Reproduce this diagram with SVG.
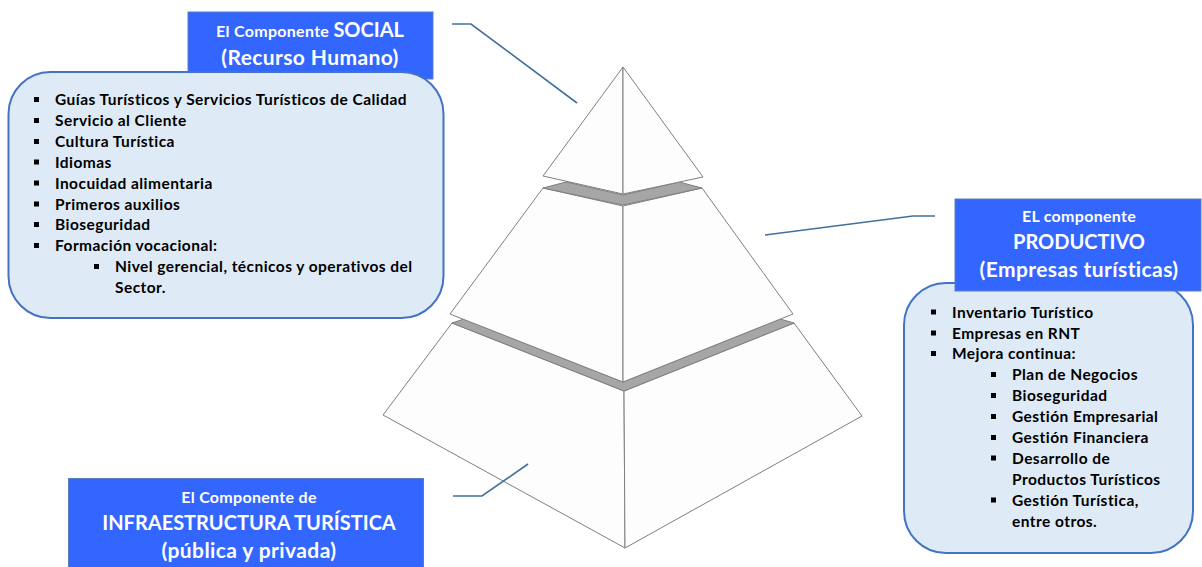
<svg xmlns="http://www.w3.org/2000/svg" width="1202" height="567" viewBox="0 0 1202 567">
<defs>
<style>
.hdr{fill:#3366FF;stroke:#5A7FC0;stroke-width:1}
.box{fill:#DEEBF7;stroke:#4472C4;stroke-width:2}
.ht{font-family:Lato,"Liberation Sans",sans-serif;font-weight:bold;fill:#FFFFFF;text-anchor:middle}
.s{font-size:16px;letter-spacing:0.3px}
.b{font-size:21px;letter-spacing:0.4px}
.c{font-size:20px}
.li{font-family:Lato,"Liberation Sans",sans-serif;font-weight:bold;font-size:15.5px;letter-spacing:0.45px;fill:#000000}
.face{fill:#FDFDFD;stroke:#7F7F7F;stroke-width:1;stroke-linejoin:round}
.band{fill:#A6A6A6;stroke:#7F7F7F;stroke-width:1;stroke-linejoin:round}
.con{fill:none;stroke:#41719C;stroke-width:1.6}
.sq{fill:#000000}
</style>
</defs>
<rect width="1202" height="567" fill="#FFFFFF"/>

<g id="pyramid">
<polygon class="face" points="383,415 452,323 624,391 625,548"/>
<polygon class="face" points="624,391 794,323 862,416 625,548"/>
<polygon class="band" points="452,323 464,319 623,382 780,319 794,323 624,391"/>
<polygon class="face" points="543,188 623,206 623,382 450,314"/>
<polygon class="face" points="623,206 702,188 793,314 623,382"/>
<polygon class="band" points="543,188 566,182 623,195 679,182 702,188 623,205"/>
<polygon class="face" points="623,67 543,176 623,194"/>
<polygon class="face" points="623,67 623,194 703,177"/>
</g>

<g id="connectors">
<polyline class="con" points="452,24 471,24 577,103"/>
<polyline class="con" points="765,235 913,216 935,216"/>
<polyline class="con" points="453,496 482,496 528,464"/>
</g>

<g id="social">
<rect class="hdr" x="188" y="12" width="245" height="67"/>
<text class="ht" x="310" y="37"><tspan class="s">El Componente </tspan><tspan class="c">SOCIAL</tspan></text>
<text class="ht b" x="310" y="65">(Recurso Humano)</text>
<rect class="box" x="8.5" y="72" width="435" height="246" rx="42" ry="42"/>
<g class="li">
<text x="55" y="105">Guías Turísticos y Servicios Turísticos de Calidad</text>
<text x="55" y="126">Servicio al Cliente</text>
<text x="55" y="147">Cultura Turística</text>
<text x="55" y="167.5">Idiomas</text>
<text x="55" y="188.5">Inocuidad alimentaria</text>
<text x="55" y="209.5">Primeros auxilios</text>
<text x="55" y="230">Bioseguridad</text>
<text x="55" y="251">Formación vocacional:</text>
<text x="115" y="272">Nivel gerencial, técnicos y operativos del</text>
<text x="115" y="293">Sector.</text>
</g>
<g class="sq">
<rect x="34" y="97" width="5" height="5"/>
<rect x="34" y="118" width="5" height="5"/>
<rect x="34" y="139" width="5" height="5"/>
<rect x="34" y="159.5" width="5" height="5"/>
<rect x="34" y="180.5" width="5" height="5"/>
<rect x="34" y="201.5" width="5" height="5"/>
<rect x="34" y="222" width="5" height="5"/>
<rect x="34" y="243" width="5" height="5"/>
<rect x="94" y="264" width="5" height="5"/>
</g>
</g>

<g id="productivo">
<rect class="box" x="904" y="283" width="289" height="270" rx="42" ry="42"/>
<rect class="hdr" x="955" y="199" width="246" height="92"/>
<text class="ht s" x="1079" y="222">EL componente</text>
<text class="ht c" x="1079" y="249">PRODUCTIVO</text>
<text class="ht b" x="1079" y="277">(Empresas turísticas)</text>
<g class="li">
<text x="952" y="317.5">Inventario Turístico</text>
<text x="952" y="338.5">Empresas en RNT</text>
<text x="952" y="359">Mejora continua:</text>
<text x="1012" y="380">Plan de Negocios</text>
<text x="1012" y="401">Bioseguridad</text>
<text x="1012" y="422">Gestión Empresarial</text>
<text x="1012" y="443">Gestión Financiera</text>
<text x="1012" y="463.5">Desarrollo de</text>
<text x="1012" y="484.5">Productos Turísticos</text>
<text x="1012" y="505.5">Gestión Turística,</text>
<text x="1012" y="526.5">entre otros.</text>
</g>
<g class="sq">
<rect x="931" y="309.5" width="5" height="5"/>
<rect x="931" y="330.5" width="5" height="5"/>
<rect x="931" y="351" width="5" height="5"/>
<rect x="991" y="372" width="5" height="5"/>
<rect x="991" y="393" width="5" height="5"/>
<rect x="991" y="414" width="5" height="5"/>
<rect x="991" y="435" width="5" height="5"/>
<rect x="991" y="455.5" width="5" height="5"/>
<rect x="991" y="497.5" width="5" height="5"/>
</g>
</g>

<g id="infraestructura">
<rect class="hdr" x="68.5" y="478.5" width="355" height="95"/>
<text class="ht s" x="249" y="503">El Componente de</text>
<text class="ht c" x="249" y="529.5">INFRAESTRUCTURA TURÍSTICA</text>
<text class="ht b" x="249" y="557.5">(pública y privada)</text>
</g>
</svg>
